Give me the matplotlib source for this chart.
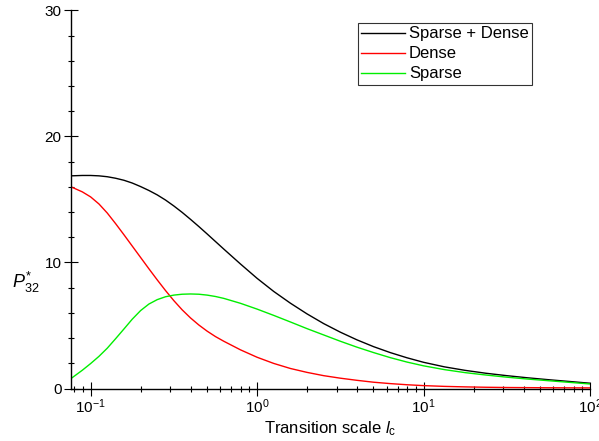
import numpy as np
import matplotlib
matplotlib.use("Agg")
import matplotlib.pyplot as plt
from matplotlib.ticker import LogLocator, MultipleLocator, NullFormatter

plt.rcParams['font.family'] = ['Liberation Sans', 'DejaVu Sans']
plt.rcParams['mathtext.fontset'] = 'custom'
plt.rcParams['mathtext.rm'] = 'Liberation Sans'
plt.rcParams['mathtext.it'] = 'Liberation Sans:italic'
plt.rcParams['mathtext.bf'] = 'Liberation Sans:bold'
plt.rcParams['axes.unicode_minus'] = False

# log10 of transition scale l_c
log_lc = [-1.118, -1.05, -1.0, -0.95, -0.9, -0.85, -0.8, -0.75, -0.7, -0.65, -0.6,
          -0.55, -0.5, -0.45, -0.4, -0.35, -0.3, -0.25, -0.2, -0.1, 0.0, 0.1,
          0.2, 0.3, 0.4, 0.5, 0.6, 0.7, 0.8, 0.9, 1.0, 1.125, 1.25, 1.375,
          1.5, 1.625, 1.75, 1.875, 2.0]

sparse_dense = [16.87, 16.9, 16.9, 16.87, 16.8, 16.68, 16.52, 16.3, 16.02, 15.71, 15.36,
                14.95, 14.48, 13.97, 13.42, 12.85, 12.26, 11.66, 11.06, 9.88, 8.74, 7.7,
                6.77, 5.92, 5.15, 4.47, 3.86, 3.32, 2.85, 2.44, 2.08, 1.72, 1.44, 1.21,
                1.02, 0.85, 0.7, 0.56, 0.42]
dense = [16.0, 15.6, 15.2, 14.64, 13.92, 13.08, 12.2, 11.3, 10.4, 9.5, 8.62,
         7.77, 6.97, 6.24, 5.6, 5.04, 4.55, 4.12, 3.75, 3.07, 2.48, 1.99,
         1.59, 1.28, 1.02, 0.82, 0.65, 0.5, 0.39, 0.3, 0.23, 0.17, 0.13, 0.1,
         0.08, 0.07, 0.06, 0.055, 0.05]
sparse = [0.79, 1.45, 1.98, 2.55, 3.2, 3.95, 4.72, 5.5, 6.18, 6.7, 7.05,
          7.28, 7.41, 7.48, 7.5, 7.48, 7.41, 7.3, 7.15, 6.76, 6.3, 5.8,
          5.28, 4.75, 4.25, 3.75, 3.28, 2.85, 2.45, 2.1, 1.8, 1.5, 1.26, 1.07,
          0.9, 0.75, 0.62, 0.49, 0.36]

x = 10 ** np.array(log_lc)

fig = plt.figure(figsize=(5.99, 4.41), dpi=100)
ax = fig.add_axes([0.1185, 0.119, 0.985 - 0.1185, 0.9766 - 0.119])

ax.plot(x, sparse_dense, color='black', lw=1.0, label='Sparse + Dense')
ax.plot(x, dense, color='red', lw=1.0, label='Dense')
ax.plot(x, sparse, color='#00ee00', lw=1.0, label='Sparse')

ax.set_xscale('log')
ax.set_xlim(10 ** -1.118, 100)
ax.set_ylim(0, 30)
ax.yaxis.set_major_locator(MultipleLocator(10))
ax.yaxis.set_minor_locator(MultipleLocator(2))
ax.xaxis.set_major_locator(LogLocator(base=10, numticks=10))
ax.xaxis.set_minor_locator(LogLocator(base=10, subs=np.arange(2, 10), numticks=20))
ax.xaxis.set_minor_formatter(NullFormatter())

for s in ['top', 'right']:
    ax.spines[s].set_visible(False)
for s in ['left', 'bottom']:
    ax.spines[s].set_linewidth(1.0)

ax.tick_params(which='major', direction='inout', length=9.5, width=0.8,
               labelsize=11, pad=2)
ax.tick_params(which='minor', direction='inout', length=5, width=0.8)

ax.set_xlabel(r'Transition scale $\mathit{l}_\mathrm{c}$', fontsize=12, labelpad=2)
fig.text(0.02, 0.36, r'$\mathit{P}^{*}_{32}$', fontsize=13, ha='left', va='center')

leg = ax.legend(loc='upper left', bbox_to_anchor=(358 / 599, 1 - 23 / 441),
                bbox_transform=fig.transFigure, fontsize=12, frameon=True,
                fancybox=False, edgecolor='black', handlelength=2.6,
                handletextpad=0.25, borderpad=0.2, labelspacing=0.3,
                borderaxespad=0)
leg.get_frame().set_linewidth(0.8)

fig.savefig('out.png', dpi=100)
